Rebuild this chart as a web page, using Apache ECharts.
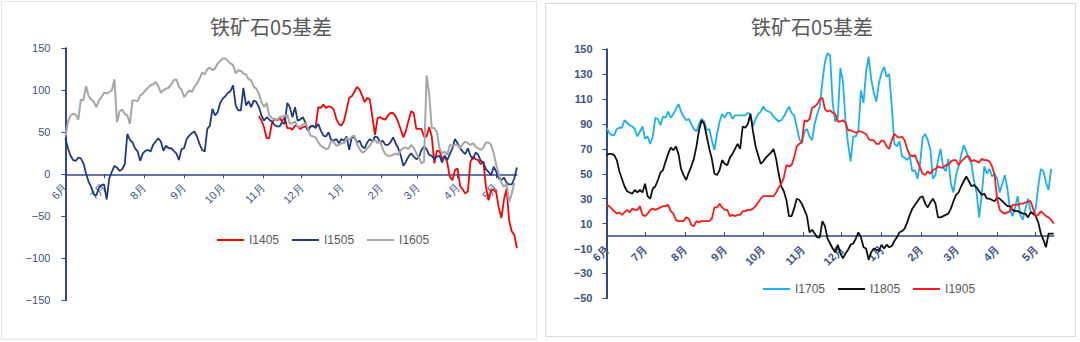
<!DOCTYPE html>
<html>
<head>
<meta charset="utf-8">
<script src="https://cdn.jsdelivr.net/npm/echarts@6/dist/echarts.min.js"></script>
<style>
html,body{margin:0;padding:0;background:#fff;}
#c{width:1080px;height:342px;}
</style>
</head>
<body>
<div id="c"></div>
<script>
// ---- DATA ----
const titleText = '铁矿石05基差';
const monthLabels = ['6月','7月','8月','9月','10月','11月','12月','1月','2月','3月','4月','5月'];
const leftMonthDays = [30,31,31,30,31,30,31,31,28,31,30,17];
const rightMonthDays = [30,31,31,30,31,30,31,31,28,31,30,15];
const sampleStep = 2; // one value every 2 calendar days
const leftTicks = [-150,-100,-50,0,50,100,150];
const rightTicks = [-50,-30,-10,10,30,50,70,90,110,130,150];

// left chart
const I1405 = [null,null,null,null,null,null,null,null,null,null,null,null,null,null,null,null,null,null,null,null,
null,null,null,null,null,null,null,null,null,null,null,null,null,null,null,null,null,null,null,null,
null,null,null,null,null,null,null,null,null,null,null,null,null,null,null,null,null,null,null,null,
null,null,null,null,null,null,null,null,null,null,null,null,null,null,null,
69,64,56,43,43,60,66,64,67,63,68,55,
55,53,58,57,54,56,57,53,57,57,56,80,79,83,79,81,80,77,66,60,58,64,77,91,93,98,104,101,94,86,91,89,68,47,
67,68,66,65,70,73,73,69,62,53,44,52,64,75,73,54,54,54,45,45,56,45,13,28,28,18,22,14,-3,-7,
5,7,-14,-18,-23,-20,15,21,18,17,12,15,-15,-31,-19,-18,-22,-40,-52,-30,-17,-55,-68,-72,-88];
const I1505 = [43,31,22,17,16,20,19,13,1,-9,-15,-24,-25,-16,-13,-12,-30,-5,3,10,
8,4,6,12,48,41,38,31,27,16,25,28,29,27,35,39,43,39,28,34,
31,31,28,25,17,30,31,42,46,49,51,45,36,29,27,54,58,78,70,74,
85,90,93,97,99,106,82,76,76,103,82,87,80,88,86,80,70,64,68,65,
63,59,57,57,62,60,85,
80,68,80,64,65,68,62,52,57,58,55,60,52,46,45,50,41,40,42,37,
42,40,45,29,44,44,38,40,33,31,38,42,39,45,44,38,40,35,35,38,
44,37,31,22,10,15,21,25,21,18,20,29,33,30,23,22,18,21,22,14,
22,17,24,31,42,37,31,27,24,31,22,18,26,23,16,14,6,3,-1,9,
3,-5,-7,-4,-10,-12,-12,-5,8];
const I1605 = [45,63,70,72,71,65,89,88,105,93,89,86,80,88,92,97,96,98,100,113,
62,75,77,72,70,60,88,88,87,94,96,100,103,106,107,110,105,97,100,102,
103,107,112,113,104,101,92,96,100,98,104,108,114,121,119,125,127,124,126,132,
135,138,138,135,132,130,120,124,123,120,119,113,112,104,102,96,86,80,85,70,
67,65,65,68,69,69,71,
60,61,63,56,57,59,61,55,46,45,44,38,34,32,30,31,40,38,34,35,
37,37,43,41,45,46,36,30,26,27,31,34,39,41,37,39,30,24,22,22,
23,25,23,29,31,32,30,35,32,25,20,13,15,118,95,55,55,50,31,25,
27,23,35,34,35,35,31,36,39,37,35,37,33,31,29,32,38,38,35,25,
11,0,-10,-15,-11,-33,-23,-10,null];

// right chart
const I1705 = [87,83,81,81,86,87,87,93,91,89,88,86,80,84,88,78,80,74,80,95,
94,89,96,95,100,95,98,102,106,100,96,93,94,90,86,84,90,94,92,85,
86,77,69,82,92,98,95,99,99,94,97,97,97,97,97,99,98,88,94,98,
100,104,101,100,99,96,94,92,93,96,100,104,99,97,88,78,75,84,86,80,
77,90,98,104,124,140,147,
145,107,92,95,135,124,92,74,60,80,80,85,117,107,132,144,126,115,108,123,
131,136,128,130,104,74,72,76,64,63,61,64,52,53,46,58,79,82,77,70,
46,49,61,70,55,52,62,42,35,49,56,65,73,68,62,58,44,35,15,33,
56,50,54,48,50,46,35,42,49,38,21,16,23,32,17,13,22,30,20,18,
22,40,54,52,43,37,54,null];
const I1805 = [65,66,66,65,61,52,46,40,36,35,34,37,35,37,35,42,32,30,38,40,
45,51,53,60,66,71,69,72,66,54,49,45,51,56,62,72,85,93,90,80,
70,62,50,49,53,61,58,57,63,66,70,74,70,88,87,90,98,84,72,65,
58,60,63,65,67,70,62,50,40,36,29,16,16,22,30,29,26,21,16,3,
5,2,-1,-1,12,8,-2,
-6,-10,-13,-7,-14,-18,-14,-11,-7,-6,-2,3,-1,-9,-10,-19,-13,-10,-11,-12,
-7,-10,-7,-9,-8,-4,-1,3,4,6,11,17,22,25,28,31,32,26,23,27,
30,26,15,15,16,17,18,22,28,33,35,40,44,48,44,40,41,39,36,33,
34,30,30,29,28,31,30,28,26,24,24,21,20,20,19,18,18,15,19,18,
16,11,2,-3,-9,2,2,2];
const I1905 = [25,24,22,20,18,19,17,19,21,19,22,21,21,24,17,16,18,21,22,21,
22,23,24,24,25,20,18,13,12,12,12,15,14,9,8,12,11,12,12,12,
12,14,23,23,26,23,21,21,16,17,16,17,17,20,20,21,21,22,24,27,
30,32,32,32,32,32,35,39,42,47,57,56,57,63,72,74,75,93,92,94,
103,104,106,110,111,102,100,
101,99,98,92,92,93,91,85,85,84,83,84,84,83,82,78,77,77,74,74,
77,76,72,70,77,82,80,79,80,77,70,65,64,65,60,55,50,49,52,50,
53,54,56,55,55,57,57,60,61,61,57,60,62,64,64,60,61,60,59,62,
61,61,60,56,49,30,21,19,18,19,20,25,25,25,26,26,27,28,28,22,
16,17,20,18,16,15,13,10];

// ---- build categories (one per calendar day) ----
function buildCats(days){
  const out=[];
  days.forEach((n,m)=>{for(let d=1;d<=n;d++) out.push(monthLabels[m]+'|'+d);});
  return out;
}
const leftCats = buildCats(leftMonthDays);
const rightCats = buildCats(rightMonthDays);
const toPairs = arr => arr.map((v,i)=>[i*sampleStep, v]);
const isMonthStart = (idx, val) => String(val).endsWith('|1');
const minus = v => String(v).replace('-', '\u2212');

const axisColor = '#2E4A8A';
const labelColor = '#3F5189';
const font = '"Liberation Sans", Arial, sans-serif';

// plotting axes (hidden x), data drawn on these
function xDataAxis(gridIndex, cats){
  return {type:'category', gridIndex, data:cats, boundaryGap:false, show:false};
}
// display axes: a grid whose bottom edge sits on the zero line
function xShowAxis(gridIndex, cats, tickInside, bold){
  return {
    type:'category', gridIndex, data:cats, boundaryGap:false, position:'bottom',
    axisLine:{show:true, onZero:false, lineStyle:{color:axisColor, width:1.5}},
    axisTick:{show:true, inside:tickInside, length:4, interval:isMonthStart, lineStyle:{color:axisColor, width:1}},
    axisLabel:{show:true, interval:isMonthStart, rotate:45, margin:11, fontSize:11, color:labelColor, fontFamily:font,
      fontWeight: bold?'bold':'normal', formatter: v => v.split('|')[0]},
    splitLine:{show:false}
  };
}
function yAxisCfg(gridIndex, min, max, interval, bold, margin){
  return {
    type:'value', gridIndex, min, max, interval,
    axisLine:{show:true, lineStyle:{color:axisColor, width:2}},
    axisTick:{show:true, length:4, lineStyle:{color:axisColor}},
    axisLabel:{fontSize:11, color:labelColor, fontFamily:font, fontWeight: bold?'bold':'normal', margin, formatter:minus},
    splitLine:{show:false}
  };
}
function line(name, data, color, xi, w){
  return {name, type:'line', xAxisIndex:xi, yAxisIndex:xi, data:toPairs(data), symbol:'none',
    showSymbol:false, connectNulls:false, lineStyle:{color, width:w}, itemStyle:{color}, z:2};
}
const legendCommon = {icon:'rect', itemWidth:27, itemHeight:2, itemGap:13,
  textStyle:{fontSize:12, color:'#595959', fontFamily:font}};

const chart = echarts.init(document.getElementById('c'), null, {renderer:'svg'});
chart.setOption({
  animation:false,
  backgroundColor:'#ffffff',
  graphic:[
    {type:'rect', shape:{x:1.5,y:1.5,width:535,height:338}, style:{fill:'none', stroke:'#E6E6E6', lineWidth:1}, silent:true, z:-10},
    {type:'rect', shape:{x:545.5,y:3.5,width:530,height:333}, style:{fill:'none', stroke:'#D9D9D9', lineWidth:1}, silent:true, z:-10},
    {type:'text', x:271, y:26, style:{text:titleText, font:'20px "Noto Sans CJK SC", sans-serif', fill:'#595959', textAlign:'center', textVerticalAlign:'middle'}},
    {type:'text', x:812, y:26, style:{text:titleText, font:'20px "Noto Sans CJK SC", sans-serif', fill:'#595959', textAlign:'center', textVerticalAlign:'middle'}}
  ],
  legend:[
    Object.assign({data:['I1405','I1505','I1605'], left:212, top:229}, legendCommon),
    Object.assign({data:['I1705','I1805','I1905'], left:758, top:278}, legendCommon)
  ],
  grid:[
    {left:65.4, top:48.3, width:451.5, height:252},
    {left:606.5, top:49.3, width:447.2, height:249},
    {left:65.4, top:48.3, width:451.5, height:126},
    {left:606.5, top:49.3, width:447.2, height:186.8}
  ],
  xAxis:[xDataAxis(0, leftCats), xDataAxis(1, rightCats),
         xShowAxis(2, leftCats, false, false), xShowAxis(3, rightCats, true, true)],
  yAxis:[yAxisCfg(0, leftTicks[0], leftTicks[leftTicks.length-1], 50, false, 15),
         yAxisCfg(1, rightTicks[0], rightTicks[rightTicks.length-1], 20, true, 14),
         {type:'value', gridIndex:2, show:false, min:0, max:1},
         {type:'value', gridIndex:3, show:false, min:0, max:1}],
  series:[
    line('I1405', I1405, '#FF0000', 0, 1.8),
    line('I1505', I1505, '#1F3A80', 0, 1.8),
    line('I1605', I1605, '#A6A6A6', 0, 2),
    line('I1705', I1705, '#1CB0EE', 1, 1.8),
    line('I1805', I1805, '#111111', 1, 1.8),
    line('I1905', I1905, '#FF1A1A', 1, 1.8)
  ]
});
</script>
</body>
</html>
